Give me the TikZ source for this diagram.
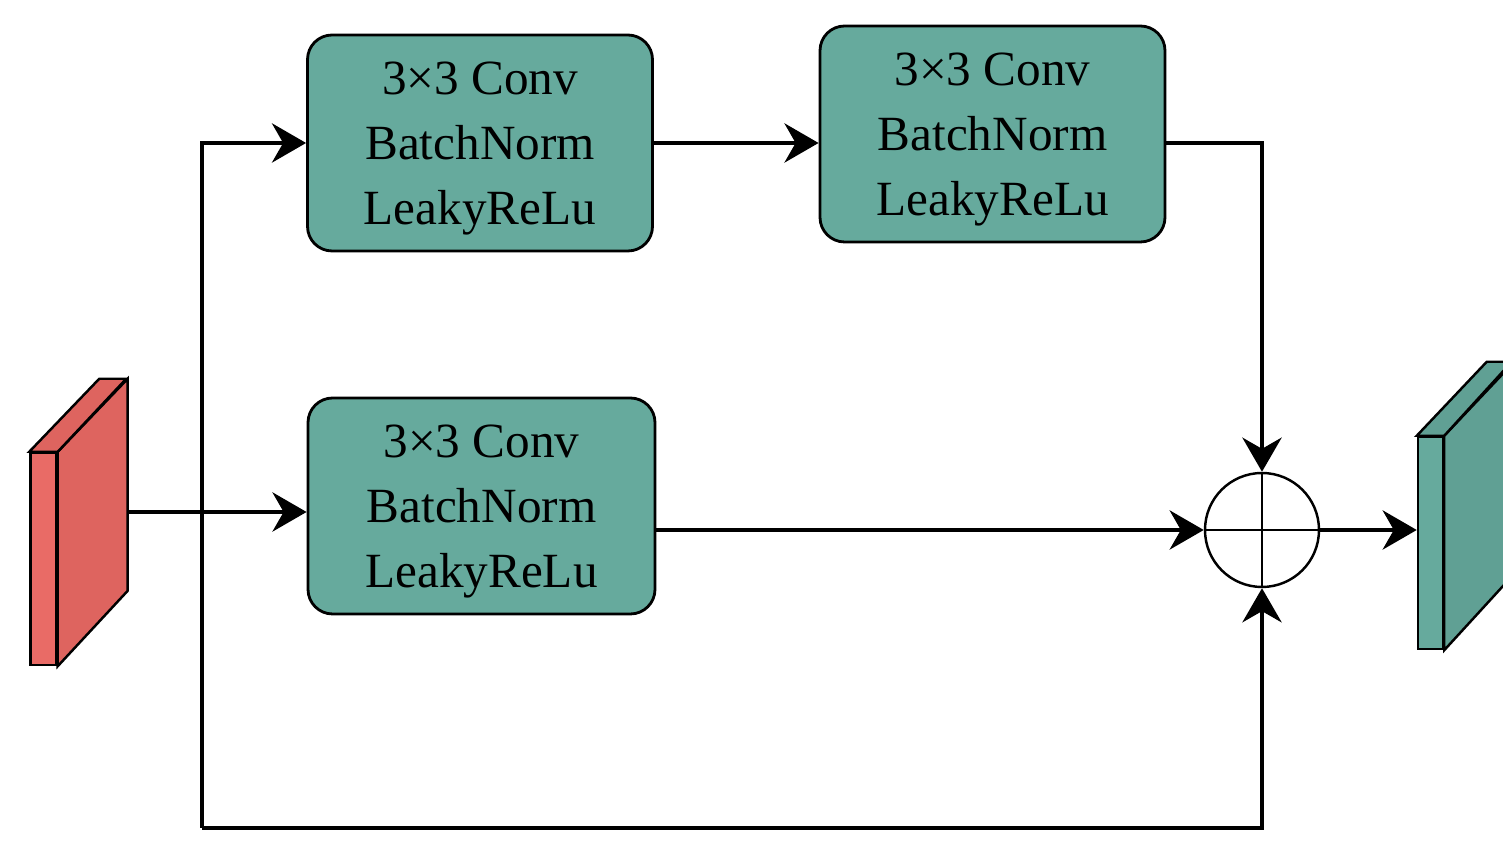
\documentclass[tikz,border=0pt]{standalone}
\usepackage{fontspec}
\setmainfont{Liberation Serif}
\usepackage{xcolor}
\usepackage{tikz}
\usetikzlibrary{arrows.meta, positioning}

\definecolor{tealbox}{RGB}{102,170,157}
\definecolor{tealside}{RGB}{96,160,148}
\definecolor{redfront}{RGB}{233,107,102}
\definecolor{redside}{RGB}{222,100,95}

\begin{document}
\begin{tikzpicture}[
		font=\fontsize{14}{18.5}\selectfont,
		box/.style={draw, line width=0.8pt, fill=tealbox, rounded corners=7pt, align=center, text depth=0pt, minimum width=3.45cm, minimum height=2.16cm},
		sumnode/.style={draw, circle, line width=0.7pt, minimum size=1.14cm, inner sep=0pt},
		face/.style={draw, line width=0.7pt, inner sep=0pt, minimum width=0.26cm, minimum height=2.12cm},
		arrow/.style={-{Stealth[length=3.4mm, width=3.9mm]}, line width=1.4pt},
		line/.style={line width=1.4pt}
		]
		\useasboundingbox (0,0) rectangle (15.03,8.46);
		
		% Nodes
		\node[box] (conv1) at (4.80,7.03) {3×3 Conv\\BatchNorm\\LeakyReLu};
		\node[box] (conv2) at (9.925,7.12) {3×3 Conv\\BatchNorm\\LeakyReLu};
		\node[box, minimum width=3.47cm] (conv3) at (4.815,3.40) {3×3 Conv\\BatchNorm\\LeakyReLu};
		\node[sumnode] (sum) at (12.62,3.16) {};
		\draw[line width=0.7pt] (sum.north) -- (sum.south) (sum.west) -- (sum.east);
		
		% Input and output blocks
		\node[face, fill=redfront] (in) at (0.435,2.87) {};
		\filldraw[line width=0.7pt, fill=redside] (in.north east) -- ++(0.70,0.73) -- ++(0,-2.12) -- (in.south east) -- cycle;
		\filldraw[line width=0.7pt, fill=redside] (in.north west) -- ++(0.70,0.73) -- ++(0.27,0) -- (in.north east) -- cycle;
		\node[face, fill=tealbox, minimum width=0.25cm] (out) at (14.305,3.03) {};
		\filldraw[line width=0.7pt, fill=tealside] (out.north east) -- ++(0.70,0.74) -- ++(0,-2.12) -- (out.south east) -- cycle;
		\filldraw[line width=0.7pt, fill=tealside] (out.north west) -- ++(0.70,0.74) -- ++(0.25,0) -- (out.north east) -- cycle;
		
		\coordinate (inport) at (1.27,3.34);
		\coordinate (split) at (2.02,3.34);
		\coordinate (bottom) at (2.02,0.18);
		
		% Arrows
		\draw[arrow] (inport) -- (conv3.west |- inport);
		\draw[arrow] (split |- bottom) |- (conv1.west);
		\draw[arrow] (conv1.east) -- (conv2.west |- conv1.east);
		\draw[arrow] (conv2.east |- conv1.east) -| (sum.north);
		\draw[arrow] (conv3.east |- sum) -- (sum.west);
		\draw[arrow] (bottom) -| (sum.south);
		\draw[arrow] (sum.east) -- (out.west |- sum);
		
	\end{tikzpicture}
\end{document}
